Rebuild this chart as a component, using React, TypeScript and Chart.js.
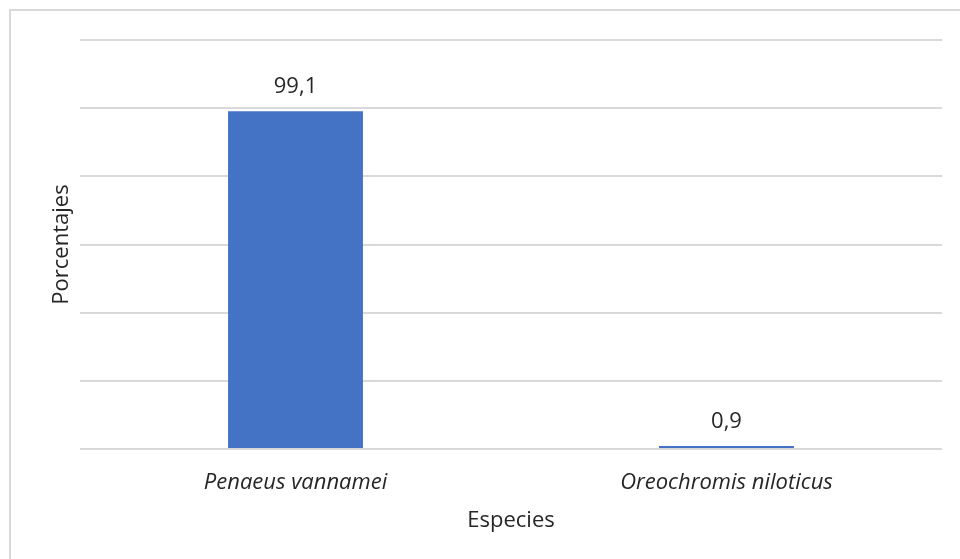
import React, { useEffect, useRef } from "react";
import { Chart, registerables } from "chart.js";

Chart.register(...registerables);

// Species and their share (%)
const species = ["Penaeus vannamei", "Oreochromis niloticus"];
const percentages = [99.1, 0.9];
const yMin = 0;
const yMax = 120;
const yStep = 20;

const FONT = "'Open Sans', 'Liberation Sans', sans-serif";
const TEXT = "#262626";
const GRID = "#d9d9d9";
const BAR = "#4472C4";

// Outer frame of the chart area (left/top edges visible)
const framePlugin = {
  id: "frame",
  beforeDraw(chart: Chart) {
    const ctx = chart.ctx;
    ctx.save();
    ctx.fillStyle = "#ffffff";
    ctx.fillRect(0, 0, chart.width, chart.height);
    ctx.strokeStyle = GRID;
    ctx.lineWidth = 2;
    ctx.strokeRect(10, 10, chart.width + 20, chart.height + 20);
    ctx.restore();
  },
};

// Value labels above each bar, with decimal comma
const valueLabelPlugin = {
  id: "valueLabels",
  afterDatasetsDraw(chart: Chart) {
    const ctx = chart.ctx;
    const meta = chart.getDatasetMeta(0);
    const data = chart.data.datasets[0].data as number[];
    ctx.save();
    ctx.font = `22px ${FONT}`;
    ctx.fillStyle = TEXT;
    ctx.textAlign = "center";
    ctx.textBaseline = "alphabetic";
    meta.data.forEach((el: any, i: number) => {
      const label = data[i].toFixed(1).replace(".", ",");
      ctx.fillText(label, el.x, el.y - 18);
    });
    ctx.restore();
  },
};

export default function App() {
  const ref = useRef<HTMLCanvasElement>(null);

  useEffect(() => {
    if (!ref.current) return;
    const chart = new Chart(ref.current, {
      type: "bar",
      data: {
        labels: species,
        datasets: [
          {
            data: percentages,
            backgroundColor: BAR,
            borderWidth: 0,
            barPercentage: 0.313,
            categoryPercentage: 1,
          },
        ],
      },
      options: {
        animation: false,
        responsive: false,
        maintainAspectRatio: false,
        layout: { padding: { top: 40, right: 18, left: 0, bottom: 0 } },
        plugins: {
          legend: { display: false },
          tooltip: { enabled: false },
        },
        scales: {
          x: {
            grid: { display: false },
            border: { display: false },
            ticks: {
              color: TEXT,
              padding: 13,
              font: { family: FONT, size: 22, style: "italic" },
            },
            title: {
              display: true,
              text: "Especies",
              color: TEXT,
              padding: { top: 0, bottom: 25 },
              font: { family: FONT, size: 22 },
            },
            afterFit(scale: any) {
              scale.height = 110;
            },
          },
          y: {
            min: yMin,
            max: yMax,
            ticks: { display: false, stepSize: yStep },
            grid: { color: GRID, lineWidth: 2, drawTicks: false },
            border: { display: false },
            title: {
              display: true,
              text: "Porcentajes",
              color: TEXT,
              padding: { top: 49, bottom: 0 },
              font: { family: FONT, size: 22 },
            },
            afterFit(scale: any) {
              scale.width = 80;
            },
          },
        },
      },
      plugins: [framePlugin, valueLabelPlugin],
    });
    return () => chart.destroy();
  }, []);

  return (
    <div style={{ position: "fixed", left: 0, top: 0, width: 960, height: 559 }}>
      <canvas ref={ref} width={960} height={559} style={{ display: "block" }} />
    </div>
  );
}
